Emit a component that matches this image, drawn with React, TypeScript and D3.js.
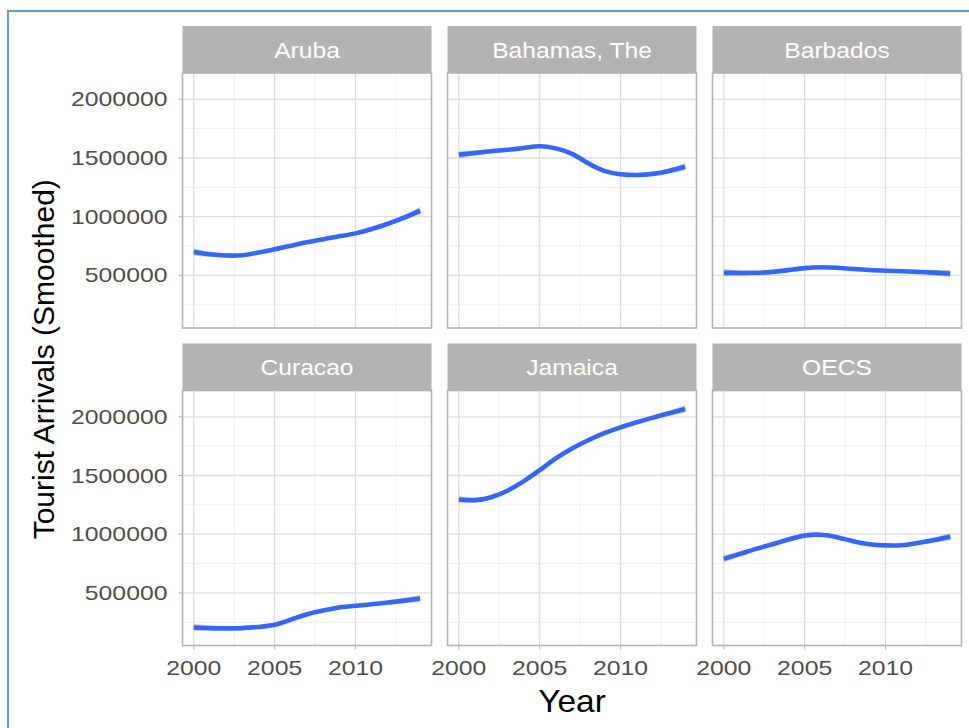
import React from "react";
import * as d3 from "d3";

const years = [2000, 2001, 2002, 2003, 2004, 2005, 2006, 2007, 2008, 2009, 2010, 2011, 2012, 2013, 2014];
const countries = ["Aruba", "Bahamas, The", "Barbados", "Curacao", "Jamaica", "OECS"];

const aruba = [700000, 680000, 670000, 672000, 695000, 722000, 752000, 782000, 808000, 833000, 858000, 895000, 940000, 992000, 1052000];
const bahamas = [1528000, 1543000, 1558000, 1570000, 1585000, 1600000, 1582000, 1535000, 1455000, 1390000, 1362000, 1355000, 1365000, 1390000, 1425000];
const barbados = [522000, 521000, 522000, 530000, 545000, 562000, 570000, 565000, 555000, 546000, 540000, 535000, 530000, 524000, 516000];
const curacao = [205000, 200000, 198000, 200000, 210000, 228000, 272000, 318000, 350000, 375000, 390000, 403000, 418000, 434000, 452000];
const jamaica = [1295000, 1290000, 1315000, 1370000, 1450000, 1545000, 1645000, 1730000, 1800000, 1860000, 1910000, 1953000, 1993000, 2030000, 2066000];
const oecs = [790000, 832000, 875000, 915000, 955000, 988000, 995000, 975000, 940000, 915000, 905000, 906000, 925000, 950000, 978000];
const seBand = [32000, 22000, 16000, 14000, 13000, 13000, 13000, 13000, 13000, 13000, 13000, 14000, 16000, 22000, 32000];

const seriesList = [aruba, bahamas, barbados, curacao, jamaica, oecs];

const yTicks = [500000, 1000000, 1500000, 2000000];
const yMinor = [250000, 750000, 1250000, 1750000];
const xTicks = [2000, 2005, 2010];
const xMinor = [2002.5, 2007.5, 2012.5];

const yTitle = "Tourist Arrivals (Smoothed)";
const xTitle = "Year";

// layout
const W = 969;
const H = 728;
const panelLeft0 = 182.5;
const panelW = 249;
const gapX = 16;
const stripTops = [26, 343.5];
const stripH = 47;
const panelH = 255;
const FONT = "'Liberation Sans', Arial, Helvetica, sans-serif";

const grey70 = "#b3b3b3";
const grey87 = "#dedede";
const gridMinor = "#ececec";

export default function App() {
  const x = d3.scaleLinear().domain([1999.3, 2014.7]).range([0, panelW]);
  const y = d3.scaleLinear().domain([52000, 2224000]).range([panelH, 0]);

  const line = d3
    .line<number>()
    .x((_, i) => x(years[i]))
    .y((d) => y(d))
    .curve(d3.curveNatural);

  const area = (vals: number[]) =>
    d3
      .area<number>()
      .x((_, i) => x(years[i]))
      .y0((d, i) => y(d - seBand[i]))
      .y1((d, i) => y(d + seBand[i]))
      .curve(d3.curveNatural)(vals);

  const panels = countries.map((name, idx) => {
    const col = idx % 3;
    const row = Math.floor(idx / 3);
    const px = panelLeft0 + col * (panelW + gapX);
    const sTop = stripTops[row];
    const py = sTop + stripH;
    const vals = seriesList[idx];
    return (
      <g key={name}>
        <rect x={px} y={sTop} width={panelW} height={stripH} fill={grey70} />
        <text
          transform={`translate(${px + panelW / 2},${sTop + stripH / 2 + 8}) scale(1.12,1)`}
          textAnchor="middle"
          fontFamily={FONT}
          fontSize={22}
          fill="#ffffff"
        >
          {name}
        </text>
        <g transform={`translate(${px},${py})`}>
          <rect x={0} y={0} width={panelW} height={panelH} fill="#ffffff" />
          {yMinor.map((v) => (
            <line key={"ym" + v} x1={0} x2={panelW} y1={y(v)} y2={y(v)} stroke={gridMinor} strokeWidth={0.8} />
          ))}
          {xMinor.map((v) => (
            <line key={"xm" + v} x1={x(v)} x2={x(v)} y1={0} y2={panelH} stroke={gridMinor} strokeWidth={0.8} />
          ))}
          {yTicks.map((v) => (
            <line key={"yM" + v} x1={0} x2={panelW} y1={y(v)} y2={y(v)} stroke={grey87} strokeWidth={1.3} />
          ))}
          {xTicks.map((v) => (
            <line key={"xM" + v} x1={x(v)} x2={x(v)} y1={0} y2={panelH} stroke={grey87} strokeWidth={1.3} />
          ))}
          <path d={area(vals) || ""} fill="#999999" opacity={0.45} />
          <path d={line(vals) || ""} fill="none" stroke="#3366ff" strokeWidth={4.6} strokeLinejoin="round" />
          <rect x={0} y={0} width={panelW} height={panelH} fill="none" stroke={grey70} strokeWidth={1.6} />
          {col === 0 &&
            yTicks.map((v) => (
              <g key={"yt" + v}>
                <line x1={-4} x2={0} y1={y(v)} y2={y(v)} stroke={grey70} strokeWidth={1} />
                <text
                  transform={`translate(${-15},${y(v) + 7}) scale(1.24,1)`}
                  textAnchor="end"
                  fontFamily={FONT}
                  fontSize={20}
                  fill="#4d4d4d"
                >
                  {String(v)}
                </text>
              </g>
            ))}
          {row === 1 &&
            xTicks.map((v) => (
              <g key={"xt" + v}>
                <line x1={x(v)} x2={x(v)} y1={panelH} y2={panelH + 4} stroke={grey70} strokeWidth={1} />
                <text
                  transform={`translate(${x(v)},${panelH + 29}) scale(1.24,1)`}
                  textAnchor="middle"
                  fontFamily={FONT}
                  fontSize={20}
                  fill="#4d4d4d"
                >
                  {String(v)}
                </text>
              </g>
            ))}
        </g>
      </g>
    );
  });

  const plotCenterX = panelLeft0 + (3 * panelW + 2 * gapX) / 2;
  const plotCenterY = (stripTops[0] + stripH + stripTops[1] + stripH + panelH) / 2;

  return (
    <svg
      width={W}
      height={H}
      style={{ position: "absolute", left: 0, top: 0, display: "block", background: "#ffffff" }}
    >
      <rect x={0} y={0} width={W} height={H} fill="#ffffff" />
      <rect x={8} y={11} width={W + 20} height={H + 20} fill="none" stroke="#5b9bd5" strokeWidth={2} />
      {panels}
      <text
        transform={`translate(${plotCenterX},${711.5}) scale(1.08,1)`}
        textAnchor="middle"
        fontFamily={FONT}
        fontSize={31}
        fill="#000000"
      >
        {xTitle}
      </text>
      <text
        transform={`translate(${53.5},${plotCenterY}) rotate(-90)`}
        textAnchor="middle"
        fontFamily={FONT}
        fontSize={30}
        fill="#000000"
      >
        {yTitle}
      </text>
    </svg>
  );
}
